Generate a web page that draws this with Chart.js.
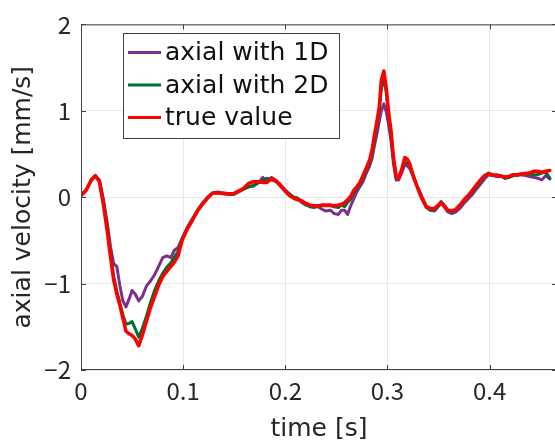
<!DOCTYPE html>
<html>
<head>
<meta charset="utf-8">
<script src="https://cdn.jsdelivr.net/npm/chart.js@4/dist/chart.umd.min.js"></script>
<style>
  html, body { margin: 0; padding: 0; background: #fff; overflow: hidden; }
  #wrap { width: 560px; height: 443px; }
</style>
</head>
<body>
<div id="wrap"><canvas id="c" width="560" height="443"></canvas></div>
<script>
// sample times [s]
const times = [
  0, 0.005, 0.010, 0.014, 0.018, 0.022, 0.026, 0.029, 0.032, 0.035,
  0.038, 0.041, 0.044, 0.047, 0.050, 0.053, 0.0565, 0.060, 0.064, 0.068,
  0.072, 0.076, 0.080, 0.084, 0.088, 0.091, 0.095, 0.099, 0.104, 0.109,
  0.114, 0.119, 0.124, 0.129, 0.134, 0.139, 0.144, 0.149, 0.154, 0.159,
  0.164, 0.169, 0.174, 0.178, 0.182, 0.1865, 0.191, 0.195, 0.1995, 0.204,
  0.208, 0.212, 0.216, 0.220, 0.224, 0.228, 0.232, 0.236, 0.240, 0.244,
  0.248, 0.252, 0.255, 0.258, 0.261, 0.264, 0.267, 0.270, 0.273, 0.276,
  0.279, 0.2825, 0.285, 0.287, 0.290, 0.292, 0.294, 0.2965, 0.299, 0.301,
  0.3035, 0.306, 0.3085, 0.311, 0.314, 0.317, 0.3195, 0.322, 0.325, 0.328,
  0.331, 0.334, 0.338, 0.342, 0.346, 0.349, 0.3525, 0.3555, 0.359, 0.363,
  0.367, 0.371, 0.375, 0.379, 0.383, 0.387, 0.391, 0.395, 0.399, 0.403,
  0.407, 0.411, 0.415, 0.419, 0.423, 0.427, 0.431, 0.435, 0.439, 0.443,
  0.447, 0.451, 0.455, 0.459
];

// axial velocity estimated with 1D [mm/s]
const axial1D = [
  0.02, 0.08, 0.19, 0.24, 0.20, -0.03, -0.32, -0.58, -0.77, -0.80,
  -1.02, -1.20, -1.27, -1.18, -1.08, -1.12, -1.20, -1.15, -1.03, -0.97,
  -0.90, -0.80, -0.70, -0.68, -0.70, -0.62, -0.58, -0.48, -0.35, -0.25,
  -0.15, -0.07, 0.00, 0.05, 0.06, 0.04, 0.03, 0.03, 0.06, 0.10,
  0.12, 0.14, 0.17, 0.23, 0.19, 0.23, 0.19, 0.15, 0.09, 0.03,
  0.00, -0.02, -0.06, -0.09, -0.10, -0.11, -0.11, -0.14, -0.16, -0.15,
  -0.19, -0.20, -0.15, -0.15, -0.20, -0.10, -0.02, 0.06, 0.12, 0.18,
  0.27, 0.36, 0.45, 0.58, 0.75, 0.88, 1.00, 1.08, 0.98, 0.85,
  0.65, 0.38, 0.20, 0.20, 0.28, 0.38, 0.36, 0.33, 0.24, 0.15,
  0.08, 0.00, -0.10, -0.15, -0.16, -0.12, -0.07, -0.11, -0.17, -0.19,
  -0.17, -0.13, -0.07, -0.02, 0.03, 0.09, 0.15, 0.21, 0.26, 0.25,
  0.24, 0.24, 0.22, 0.23, 0.25, 0.25, 0.26, 0.25, 0.24, 0.23,
  0.22, 0.20, 0.25, 0.21
];

// axial velocity estimated with 2D [mm/s]
const axial2D = [
  0.02, 0.08, 0.20, 0.25, 0.19, -0.05, -0.38, -0.65, -0.92, -1.08,
  -1.22, -1.36, -1.47, -1.46, -1.44, -1.52, -1.62, -1.52, -1.38, -1.22,
  -1.08, -0.97, -0.88, -0.81, -0.76, -0.70, -0.63, -0.48, -0.36, -0.26,
  -0.16, -0.07, 0.00, 0.05, 0.05, 0.05, 0.04, 0.03, 0.06, 0.09,
  0.12, 0.13, 0.17, 0.19, 0.22, 0.20, 0.18, 0.13, 0.08, 0.04,
  0.00, -0.01, -0.05, -0.08, -0.11, -0.12, -0.10, -0.10, -0.10, -0.10,
  -0.11, -0.12, -0.09, -0.11, -0.06, -0.02, 0.05, 0.10, 0.15, 0.22,
  0.30, 0.40, 0.50, 0.65, 0.85, 1.00, 1.25, 1.38, 1.20, 0.95,
  0.72, 0.42, 0.23, 0.24, 0.32, 0.40, 0.40, 0.36, 0.26, 0.16,
  0.07, -0.02, -0.12, -0.15, -0.15, -0.11, -0.05, -0.09, -0.15, -0.17,
  -0.15, -0.10, -0.04, 0.01, 0.06, 0.12, 0.18, 0.24, 0.28, 0.25,
  0.26, 0.25, 0.22, 0.23, 0.25, 0.26, 0.27, 0.27, 0.27, 0.26,
  0.26, 0.28, 0.29, 0.22
];

// true axial velocity [mm/s]
const trueValue = [
  0.02, 0.08, 0.20, 0.25, 0.18, -0.09, -0.42, -0.70, -0.96, -1.12,
  -1.25, -1.40, -1.55, -1.58, -1.60, -1.64, -1.72, -1.60, -1.44, -1.28,
  -1.15, -1.02, -0.92, -0.86, -0.80, -0.76, -0.68, -0.50, -0.37, -0.27,
  -0.16, -0.08, -0.01, 0.05, 0.05, 0.045, 0.04, 0.04, 0.07, 0.10,
  0.16, 0.18, 0.18, 0.17, 0.17, 0.215, 0.19, 0.14, 0.075, 0.02,
  -0.01, -0.03, -0.04, -0.07, -0.09, -0.10, -0.10, -0.09, -0.09, -0.09,
  -0.10, -0.09, -0.08, -0.065, -0.03, 0.01, 0.08, 0.12, 0.17, 0.25,
  0.33, 0.43, 0.55, 0.70, 0.90, 1.05, 1.35, 1.46, 1.25, 1.00,
  0.77, 0.45, 0.25, 0.22, 0.32, 0.46, 0.44, 0.38, 0.26, 0.16,
  0.06, -0.02, -0.11, -0.13, -0.13, -0.10, -0.06, -0.10, -0.15, -0.16,
  -0.14, -0.09, -0.03, 0.02, 0.08, 0.14, 0.20, 0.25, 0.27, 0.26,
  0.25, 0.245, 0.235, 0.24, 0.26, 0.26, 0.27, 0.275, 0.28, 0.30,
  0.30, 0.29, 0.30, 0.31
];

const xTicks = [0, 0.1, 0.2, 0.3, 0.4];
const yTicks = [-2, -1, 0, 1, 2];
const seriesNames = ['axial with 1D', 'axial with 2D', 'true value'];

const TICK_FONT = '"Noto Sans CJK JP", "Noto Sans", sans-serif';
const LABEL_FONT = '"DejaVu Sans", sans-serif';
const TEXT = '#262626';
const AXIS = '#404040';

const pts = vals => times.map((t, i) => ({ x: t, y: vals[i] }));
const fmt = v => (v < 0 ? '\u2212' : '') + String(Math.abs(Math.round(v * 10) / 10));

// box outline, inward tick marks and the in-plot legend
const framePlugin = {
  id: 'frame',
  afterDraw(chart) {
    const { ctx, chartArea: a, scales } = chart;
    ctx.save();
    ctx.strokeStyle = AXIS;
    ctx.lineWidth = 1;
    ctx.beginPath();
    ctx.rect(a.left + 0.5, a.top + 0.5, a.right - a.left - 1, a.bottom - a.top - 1);
    const tl = 5;
    xTicks.forEach(v => {
      const x = Math.round(scales.x.getPixelForValue(v)) + 0.5;
      ctx.moveTo(x, a.bottom); ctx.lineTo(x, a.bottom - tl);
      ctx.moveTo(x, a.top); ctx.lineTo(x, a.top + tl);
    });
    yTicks.forEach(v => {
      const y = Math.round(scales.y.getPixelForValue(v)) + 0.5;
      ctx.moveTo(a.left, y); ctx.lineTo(a.left + tl, y);
      ctx.moveTo(a.right, y); ctx.lineTo(a.right - tl, y);
    });
    ctx.stroke();

    // legend
    const bx = 123.5, by = 33.5, bw = 216, bh = 105;
    ctx.fillStyle = '#fff';
    ctx.fillRect(bx, by, bw, bh);
    ctx.strokeStyle = AXIS;
    ctx.strokeRect(bx, by, bw, bh);
    ctx.font = '25px ' + LABEL_FONT;
    ctx.textBaseline = 'middle';
    ctx.textAlign = 'left';
    [0, 1, 2].forEach((di, row) => {
      const ds = chart.data.datasets[di];
      const y = 52.5 + row * 32.5;
      ctx.strokeStyle = ds.borderColor;
      ctx.lineWidth = 3;
      ctx.beginPath();
      ctx.moveTo(128, y); ctx.lineTo(161, y);
      ctx.stroke();
      ctx.fillStyle = '#111';
      ctx.fillText(ds.label, 165, y + 1);
    });
    ctx.restore();
  }
};

new Chart(document.getElementById('c'), {
  type: 'line',
  data: {
    datasets: [
      { label: seriesNames[0], data: pts(axial1D), borderColor: '#7E2F8E', borderWidth: 3, order: 3 },
      { label: seriesNames[1], data: pts(axial2D), borderColor: '#006E2E', borderWidth: 3, order: 2 },
      { label: seriesNames[2], data: pts(trueValue), borderColor: '#FF0000', borderWidth: 3.5, order: 1 }
    ]
  },
  options: {
    responsive: false,
    animation: false,
    devicePixelRatio: 1,
    elements: { point: { radius: 0 }, line: { tension: 0, borderJoinStyle: 'round', borderCapStyle: 'round' } },
    layout: { padding: { left: 0, top: 19, right: 3, bottom: 0 } },
    plugins: { legend: { display: false }, tooltip: { enabled: false } },
    scales: {
      x: {
        type: 'linear', min: 0, max: 0.466,
        afterFit: s => { s.height = 73; },
        afterBuildTicks: s => { s.ticks = xTicks.map(v => ({ value: v })); },
        grid: { color: '#e8e8e8', lineWidth: 1, drawTicks: false },
        border: { display: false },
        ticks: { color: TEXT, font: { family: TICK_FONT, size: 24 }, padding: 6, maxRotation: 0, callback: v => fmt(v) },
        title: { display: true, text: 'time [s]', color: TEXT, font: { family: LABEL_FONT, size: 25 }, padding: { top: 0, bottom: -1 } }
      },
      y: {
        type: 'linear', min: -2, max: 2,
        afterFit: s => { s.width = 81; },
        afterBuildTicks: s => { s.ticks = yTicks.map(v => ({ value: v })); },
        grid: { color: '#e8e8e8', lineWidth: 1, drawTicks: false },
        border: { display: false },
        ticks: { color: TEXT, font: { family: TICK_FONT, size: 24 }, padding: 10, callback: v => fmt(v) },
        title: { display: true, text: 'axial velocity [mm/s]', color: TEXT, font: { family: LABEL_FONT, size: 25 }, padding: { top: 8, bottom: 0 } }
      }
    }
  },
  plugins: [framePlugin]
});
</script>
</body>
</html>
